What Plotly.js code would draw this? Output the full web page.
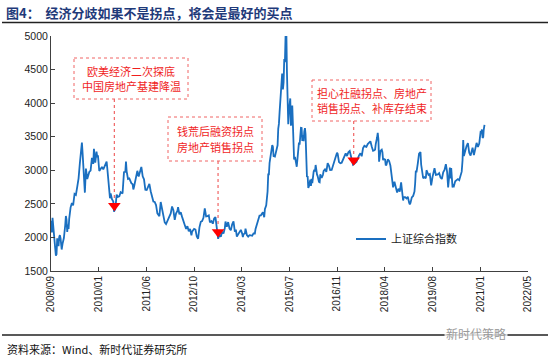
<!DOCTYPE html>
<html>
<head>
<meta charset="utf-8">
<script src="https://cdn.plot.ly/plotly-3.0.1.min.js"></script>
<style>html,body{margin:0;padding:0;background:#fff;}#chart{width:550px;height:358px;}</style>
</head>
<body>
<div id="chart"></div>
<script>
// ---------------- DATA ----------------
const seriesName = '上证综合指数';
const weekDates = [
'2008-09-10','2008-09-19','2008-09-26','2008-10-10','2008-10-17','2008-10-24','2008-10-31','2008-11-07','2008-11-14','2008-11-21','2008-11-28','2008-12-05','2008-12-12','2008-12-19','2008-12-31',
'2009-01-09','2009-01-16','2009-01-23','2009-02-06','2009-02-13','2009-02-20','2009-02-27','2009-03-06','2009-03-13','2009-03-20','2009-03-27','2009-04-03','2009-04-17','2009-04-30','2009-05-15','2009-05-29','2009-06-12','2009-06-26','2009-07-10','2009-07-24','2009-07-31','2009-08-07','2009-08-14','2009-08-21','2009-08-31','2009-09-11','2009-09-25','2009-10-16','2009-10-30','2009-11-13','2009-11-27','2009-12-04','2009-12-18','2009-12-31',
'2010-01-08','2010-01-15','2010-01-22','2010-01-29','2010-02-12','2010-02-26','2010-03-12','2010-03-26','2010-04-09','2010-04-16','2010-04-23','2010-04-30','2010-05-14','2010-05-21','2010-05-28','2010-06-11','2010-06-25','2010-07-02','2010-07-16','2010-07-30','2010-08-13','2010-08-27','2010-09-10','2010-09-30','2010-10-15','2010-10-29','2010-11-05','2010-11-12','2010-11-19','2010-11-26','2010-12-10','2010-12-24','2010-12-31',
'2011-01-14','2011-01-21','2011-01-28','2011-02-18','2011-02-25','2011-03-04','2011-03-18','2011-04-01','2011-04-15','2011-04-22','2011-04-29','2011-05-13','2011-05-27','2011-06-10','2011-06-24','2011-07-08','2011-07-22','2011-08-05','2011-08-19','2011-09-02','2011-09-16','2011-09-30','2011-10-21','2011-11-04','2011-11-18','2011-12-02','2011-12-16','2011-12-30',
'2012-01-13','2012-02-03','2012-02-17','2012-03-02','2012-03-16','2012-03-30','2012-04-13','2012-04-27','2012-05-04','2012-05-18','2012-06-01','2012-06-15','2012-06-29','2012-07-13','2012-07-27','2012-08-10','2012-08-24','2012-09-07','2012-09-21','2012-09-28','2012-10-19','2012-11-02','2012-11-16','2012-11-30','2012-12-14','2012-12-28',
'2013-01-11','2013-01-25','2013-02-08','2013-02-22','2013-03-08','2013-03-22','2013-04-03','2013-04-19','2013-05-03','2013-05-17','2013-05-31','2013-06-07','2013-06-21','2013-06-28','2013-07-12','2013-07-26','2013-08-09','2013-08-23','2013-09-06','2013-09-13','2013-09-27','2013-10-11','2013-10-25','2013-11-08','2013-11-22','2013-12-06','2013-12-20','2013-12-31',
'2014-01-10','2014-01-24','2014-02-14','2014-02-21','2014-03-07','2014-03-14','2014-03-21','2014-04-04','2014-04-11','2014-04-25','2014-05-09','2014-05-23','2014-06-06','2014-06-20','2014-07-04','2014-07-18','2014-07-25','2014-08-08','2014-08-22','2014-09-05','2014-09-19','2014-10-10','2014-10-24','2014-10-31','2014-11-14','2014-11-28','2014-12-05','2014-12-12','2014-12-19','2014-12-31',
'2015-01-09','2015-01-16','2015-01-23','2015-01-30','2015-02-13','2015-02-27','2015-03-13','2015-03-20','2015-03-27','2015-04-03','2015-04-10','2015-04-17','2015-04-24','2015-04-30','2015-05-08','2015-05-15','2015-05-22','2015-05-29','2015-06-05','2015-06-12','2015-06-19','2015-06-26','2015-07-03','2015-07-10','2015-07-17','2015-07-24','2015-07-31','2015-08-07','2015-08-14','2015-08-21','2015-08-28','2015-09-02','2015-09-11','2015-09-18','2015-09-25','2015-09-30','2015-10-09','2015-10-16','2015-10-23','2015-10-30','2015-11-06','2015-11-13','2015-11-20','2015-11-27','2015-12-04','2015-12-11','2015-12-18','2015-12-25','2015-12-31',
'2016-01-08','2016-01-15','2016-01-22','2016-01-29','2016-02-05','2016-02-19','2016-02-26','2016-03-04','2016-03-11','2016-03-18','2016-03-25','2016-04-01','2016-04-08','2016-04-15','2016-04-22','2016-04-29','2016-05-06','2016-05-13','2016-05-20','2016-05-27','2016-06-03','2016-06-17','2016-06-30','2016-07-08','2016-07-22','2016-08-05','2016-08-19','2016-09-02','2016-09-14','2016-09-30','2016-10-14','2016-10-28','2016-11-11','2016-11-25','2016-12-02','2016-12-16','2016-12-30',
'2017-01-13','2017-01-26','2017-02-10','2017-02-24','2017-03-10','2017-03-24','2017-04-07','2017-04-14','2017-04-28','2017-05-05','2017-05-12','2017-05-19','2017-05-26','2017-06-02','2017-06-16','2017-06-30','2017-07-14','2017-07-28','2017-08-11','2017-08-25','2017-09-08','2017-09-22','2017-09-29','2017-10-13','2017-10-27','2017-11-10','2017-11-24','2017-12-08','2017-12-22','2017-12-29',
'2018-01-05','2018-01-12','2018-01-19','2018-01-26','2018-02-02','2018-02-09','2018-02-23','2018-03-09','2018-03-16','2018-03-23','2018-03-30','2018-04-13','2018-04-20','2018-04-27','2018-05-11','2018-05-25','2018-06-08','2018-06-22','2018-06-29','2018-07-06','2018-07-20','2018-08-03','2018-08-17','2018-08-31','2018-09-14','2018-09-28','2018-10-12','2018-10-19','2018-10-26','2018-11-09','2018-11-23','2018-12-07','2018-12-21','2018-12-28',
'2019-01-04','2019-01-18','2019-02-01','2019-02-15','2019-02-22','2019-03-01','2019-03-08','2019-03-15','2019-03-22','2019-04-04','2019-04-19','2019-04-26','2019-05-10','2019-05-17','2019-05-31','2019-06-14','2019-06-21','2019-06-28','2019-07-12','2019-07-26','2019-08-09','2019-08-23','2019-09-06','2019-09-13','2019-09-27','2019-10-18','2019-11-01','2019-11-15','2019-11-29','2019-12-13','2019-12-27','2019-12-31',
'2020-01-10','2020-01-23','2020-02-03','2020-02-14','2020-02-21','2020-02-28','2020-03-06','2020-03-13','2020-03-20','2020-03-27','2020-04-03','2020-04-17','2020-04-30','2020-05-15','2020-05-29','2020-06-12','2020-06-24','2020-07-03','2020-07-10','2020-07-17','2020-07-31','2020-08-14','2020-08-28','2020-09-11','2020-09-25','2020-10-16','2020-10-30','2020-11-13','2020-11-27','2020-12-11','2020-12-25','2020-12-31',
'2021-01-08','2021-01-15','2021-01-22','2021-01-29','2021-02-05','2021-02-10','2021-02-18'
];
const closeValues = [
2250,2075,2293,2000,1930,1840,1728,1748,1986,1930,1871,2002,2035,1990,1820,
1904,1954,1991,2181,2320,2261,2082,2193,2128,2281,2374,2444,2513,2477,2647,2632,2754,2880,3114,3372,3412,3260,3113,2960,2667,3026,2871,2976,2995,3187,3096,3320,3113,3277,
3196,3224,3128,2989,3018,3051,3014,3059,3131,3130,3030,2870,2697,2583,2655,2569,2534,2383,2424,2638,2604,2611,2675,2655,2972,2978,3129,2985,2888,2871,2880,2835,2808,
2791,2715,2752,2900,2900,2992,2906,2967,3050,2985,2911,2866,2709,2705,2746,2797,2688,2626,2534,2528,2482,2359,2317,2528,2417,2360,2224,2199,
2245,2330,2357,2460,2404,2262,2359,2396,2452,2345,2373,2306,2225,2185,2128,2168,2092,2128,2033,2086,2128,2117,2015,1980,2150,2233,
2243,2292,2432,2314,2318,2328,2225,2244,2205,2283,2301,2210,2073,1979,2039,2010,2085,2057,2139,2236,2160,2228,2133,2106,2197,2238,2085,2116,
2013,2054,2115,2113,2057,2004,2047,2058,2131,2036,2011,2034,2030,2025,2060,2059,2126,2194,2240,2326,2329,2374,2302,2420,2478,2683,2938,2938,3109,3235,
3285,3376,3351,3210,3203,3311,3372,3617,3691,3863,4034,4287,4393,4441,4205,4308,4657,4611,5023,5166,4478,4192,3686,3877,3957,4070,3664,3744,3965,3507,3232,3160,3200,3097,3092,3053,3183,3391,3412,3383,3590,3632,3630,3436,3525,3435,3578,3627,3539,
3186,2901,2916,2738,2763,2860,2767,2874,2810,2955,2979,3009,2985,3079,2960,2938,2913,2828,2826,2821,2939,2885,2930,2989,3013,2977,3108,3067,3003,3005,3064,3105,3197,3262,3244,3123,3104,
3113,3159,3197,3253,3212,3269,3287,3246,3155,3103,3083,3090,3110,3106,3123,3192,3222,3253,3209,3331,3365,3353,3349,3391,3417,3432,3353,3289,3297,3307,
3391,3429,3488,3558,3462,3129,3289,3307,3269,3152,3169,3159,3071,3082,3163,3141,3067,2889,2847,2747,2830,2741,2669,2725,2682,2821,2606,2550,2599,2599,2580,2605,2516,2494,
2514,2596,2618,2682,2804,2994,2969,3021,3104,3247,3270,3086,2939,2882,2898,2882,3001,2979,2930,2944,2775,2898,2999,3031,2932,2938,2958,2891,2871,2968,3005,3050,
3092,2976,2746,2917,3039,2880,3034,2887,2745,2772,2764,2838,2860,2868,2852,2919,2980,3152,3450,3214,3310,3360,3404,3260,3219,3336,3225,3310,3408,3347,3397,3473,
3570,3566,3607,3483,3496,3603,3675
];
const eventDates  = ['2010-07-06','2013-06-27','2017-05-19'];
const eventValues = [2470,2080,3150];
const eventTexts  = ['欧美经济二次探底<br>中国房地产基建降温','钱荒后融资拐点<br>房地产销售拐点','担心社融拐点、房地产<br>销售拐点、补库存结束'];
const tickLabels  = ['2008/09','2010/01','2011/06','2012/10','2014/03','2015/07','2016/11','2018/04','2019/08','2021/01','2022/05'];
const yTickValues = [1500,2000,2500,3000,3500,4000,4500,5000];
const chartTitle  = '图4：  经济分歧如果不是拐点，将会是最好的买点';
const sourceText  = '资料来源：Wind、新时代证券研究所';
const watermark   = '新时代策略';

// ---------------- LAYOUT HELPERS ----------------
const W=550,H=358,ML=51,MR=22,MT=36,MB=87;
const PW=W-ML-MR, PH=H-MT-MB;
const pxX = px => (px-ML)/PW;
const pxY = py => (H-MB-py)/PH;
const yMin=1500,yMax=5000;
const valToPaper = v => (v-yMin)/(yMax-yMin);
const DAY=864e5, start=Date.UTC(2008,8,10);
const tickVals = tickLabels.map((_,i)=>new Date(start+i*500*DAY).toISOString().slice(0,10));
const xEnd = new Date(start+5000*DAY).toISOString().slice(0,10);

const CJK = '"Noto Sans CJK SC", "Noto Sans", sans-serif';
const LAT = '"Liberation Sans", Arial, sans-serif';
const RED = '#f01e1e';
const BOXRED = '#f06464';

const boxes = [
  {x0:74,x1:188,y0:58,y1:99},
  {x0:168,x1:262,y0:117,y1:161},
  {x0:312,x1:431,y0:80,y1:121}
];
const LINE_GAP = 15.5;

const shapes = [
  {type:'line',xref:'paper',yref:'paper',x0:pxX(2),x1:pxX(548),y0:pxY(22.5),y1:pxY(22.5),line:{color:'#222',width:1.6}},
  {type:'line',xref:'paper',yref:'paper',x0:pxX(2),x1:pxX(548),y0:pxY(335),y1:pxY(335),line:{color:'#222',width:1.6}}
];
const annotations = [
  {xref:'paper',yref:'paper',x:pxX(4),y:pxY(12),xanchor:'left',yanchor:'middle',showarrow:false,
   text:'<b>'+chartTitle.replace(/ /g,'&nbsp;')+'</b>',font:{family:CJK,size:13,color:'#1f3a7a'}},
  {xref:'paper',yref:'paper',x:pxX(5),y:pxY(349),xanchor:'left',yanchor:'middle',showarrow:false,
   text:sourceText,font:{family:CJK,size:11,color:'#111'}},
  {xref:'paper',yref:'paper',x:pxX(476),y:pxY(333),xanchor:'center',yanchor:'middle',showarrow:false,
   text:watermark,font:{family:CJK,size:12,color:'#9a9a9a'},bgcolor:'rgba(255,255,255,0.8)'}
];
boxes.forEach((b,i)=>{
  shapes.push({type:'rect',xref:'paper',yref:'paper',x0:pxX(b.x0),x1:pxX(b.x1),y0:pxY(b.y0),y1:pxY(b.y1),
    line:{color:BOXRED,width:1,dash:'dot'},fillcolor:'rgba(255,255,255,0)'});
  shapes.push({type:'line',xref:'x',yref:'paper',x0:eventDates[i],x1:eventDates[i],
    y0:pxY(b.y1),y1:valToPaper(eventValues[i])+6/PH,line:{color:BOXRED,width:1.2,dash:'dot'}});
  const lines = eventTexts[i].split('<br>');
  const cy = (b.y0+b.y1)/2;
  lines.forEach((ln,j)=>{
    annotations.push({xref:'paper',yref:'paper',x:pxX((b.x0+b.x1)/2),
      y:pxY(cy + (j-(lines.length-1)/2)*LINE_GAP),
      xanchor:'center',yanchor:'middle',showarrow:false,text:ln,
      font:{family:CJK,size:11,color:RED}});
  });
});

const traces = [
  {x:weekDates,y:closeValues,type:'scatter',mode:'lines',name:seriesName,
   line:{color:'#1a6fc0',width:1.8},showlegend:true},
  {x:eventDates,y:eventValues,type:'scatter',mode:'markers',showlegend:false,
   marker:{symbol:'triangle-down',size:11,color:'#ff0000'},cliponaxis:false}
];

const layout = {
  width:W,height:H,margin:{l:ML,r:MR,t:MT,b:MB,pad:0},
  paper_bgcolor:'#fff',plot_bgcolor:'#fff',
  font:{family:LAT,size:10,color:'#222'},
  xaxis:{type:'date',range:[tickVals[0],xEnd],tickmode:'array',tickvals:tickVals,ticktext:tickLabels,
    tickangle:-90,ticks:'inside',ticklen:4,tickcolor:'#404040',showline:true,linecolor:'#404040',linewidth:1,
    showgrid:false,zeroline:false,tickfont:{family:LAT,size:10,color:'#222'},fixedrange:true},
  yaxis:{range:[yMin,yMax],tickmode:'array',tickvals:yTickValues,ticks:'inside',ticklen:4,tickcolor:'#404040',
    showline:true,linecolor:'#404040',linewidth:1,showgrid:false,zeroline:false,
    tickfont:{family:LAT,size:10.5,color:'#222'},fixedrange:true},
  showlegend:true,
  legend:{x:pxX(351),y:pxY(239),xanchor:'left',yanchor:'middle',bgcolor:'rgba(0,0,0,0)',
    font:{family:CJK,size:11,color:'#222'},itemwidth:30},
  shapes:shapes,annotations:annotations
};
Plotly.newPlot('chart',traces,layout,{staticPlot:true,displayModeBar:false});
</script>
</body>
</html>
